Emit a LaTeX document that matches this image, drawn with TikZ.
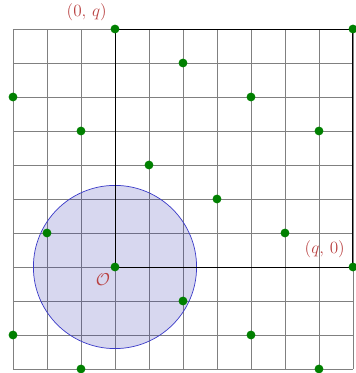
\documentclass[tikz,border=0pt]{standalone}
\usepackage{amsmath}
\definecolor{lbl}{RGB}{185,65,65}
\definecolor{dotg}{RGB}{0,128,0}
\definecolor{cfill}{RGB}{40,40,170}
\definecolor{cedge}{RGB}{60,60,200}
\tikzset{
  lat/.style={circle,fill=dotg,inner sep=0pt,minimum size=0.26cm},
  gridline/.style={gray,line width=0.5pt},
  sq/.style={black,line width=0.8pt},
  lab/.style={text=lbl,font=\fontsize{15}{17}\selectfont,inner sep=1pt}
}
\begin{document}
\begin{tikzpicture}
\useasboundingbox (-3.382,-3.118) rectangle (7.088,7.853);
\draw[gridline] (-3,-3) grid (7,7);
\coordinate (O) at (0,0);
\draw[fill=cfill,fill opacity=0.19,draw=cedge,line width=0.6pt] (O) circle (2.4);
\coordinate (Q0) at (7,0);
\coordinate (QQ) at (7,7);
\coordinate (P0) at (0,7);
\draw[sq] (O) -- (Q0) -- (QQ) -- (P0) -- cycle;
% lattice points y = 3x mod 7
\foreach \x/\y [count=\i] in {0/7,7/7,2/6,-3/5,4/5,-1/4,6/4,1/3,3/2,-2/1,5/1,0/0,7/0,2/-1,-3/-2,4/-2,-1/-3,6/-3}
  \node[lat] (p\i) at (\x,\y) {};
\node[lab,anchor=south east] (lq) at (-0.2,7.2) {$(0,\,q)$};
\node[lab,anchor=south east] (lq0) at (6.8,0.22) {$(q,\,0)$};
\node[lab,anchor=north east] (lo) at (-0.1,-0.15) {$\mathcal{O}$};
\end{tikzpicture}
\end{document}
